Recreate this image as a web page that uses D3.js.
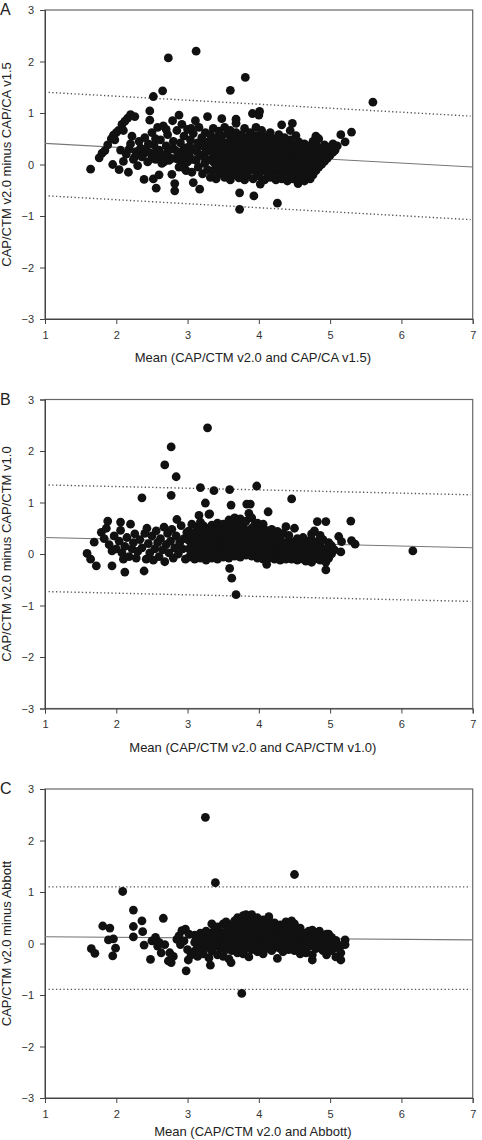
<!DOCTYPE html>
<html><head><meta charset="utf-8">
<script src="https://cdn.jsdelivr.net/npm/d3@7"></script>
<style>html,body{margin:0;padding:0;background:#fff;}svg{display:block;}</style>
</head><body>
<script>
const xTicks = [1,2,3,4,5,6,7];
const yTicks = [-3,-2,-1,0,1,2,3];
const panelLetters = ["A","B","C"];
const xTitles = ["Mean (CAP/CTM v2.0 and CAP/CA v1.5)","Mean (CAP/CTM v2.0 and CAP/CTM v1.0)","Mean (CAP/CTM v2.0 and Abbott)"];
const yTitles = ["CAP/CTM v2.0 minus CAP/CA v1.5","CAP/CTM v2.0 minus CAP/CTM v1.0","CAP/CTM v2.0 minus Abbott"];

// regression (solid) and limits of agreement (dotted) lines, [x,y] endpoints
const biasA = [[1,0.41],[7,-0.05]], upperA = [[1.05,1.40],[6.97,0.94]], lowerA = [[1.05,-0.61],[6.97,-1.07]];
const biasB = [[1,0.32],[7,0.12]], upperB = [[1.05,1.34],[6.97,1.15]], lowerB = [[1.05,-0.73],[6.97,-0.92]];
const biasC = [[1,0.13],[7,0.07]], upperC = [[1.05,1.10],[6.97,1.10]], lowerC = [[1.05,-0.89],[6.97,-0.89]];

// helper to expand columns [x, [ys]] into points
function cols(list){const o=[];list.forEach(([x,ys])=>ys.forEach(y=>o.push([x,y])));return o;}

const ptsA = [
[2.73,2.07],[3.12,2.20],[3.81,1.69],[3.60,1.44],[2.65,1.43],[2.52,1.32],[5.60,1.21],
[1.64,-0.09],[1.76,0.13],[1.80,0.22],[1.84,0.27],[1.88,0.38],[1.93,0.50],[1.98,0.48],[1.96,0.57],[2.00,0.62],[2.03,0.66],[2.08,0.78],[2.10,0.66],[2.12,0.84],[2.16,0.90],[2.20,0.97],[2.26,0.93],
[1.95,0.00],[2.04,-0.10],[2.10,0.06],[2.06,0.28],[2.14,0.20],[2.17,-0.15],[2.20,0.40],[2.24,0.10],[2.28,0.25],[2.30,-0.02],[2.22,0.55],[2.32,0.45],
[2.18,0.30],[2.26,0.15],[2.34,0.32],[2.38,0.20],[2.45,0.40],[2.50,0.12],[2.57,0.25],[2.63,0.15],[2.67,0.05],[2.71,0.22],[2.77,0.12],[2.81,0.30],[2.87,0.10],[2.91,0.05],[2.94,0.28],[2.99,0.18],[3.03,0.35],[3.07,0.10],[3.13,0.25],[3.19,0.38],[3.23,0.15],[3.27,0.40],[3.05,0.70],[2.70,0.68],[2.55,0.50],
[2.36,0.15],[2.39,-0.29],[2.40,0.52],[2.42,0.30],[2.44,0.05],[2.47,0.86],[2.47,1.04],[2.48,0.22],[2.50,0.62],[2.52,-0.28],[2.53,0.38],[2.55,0.10],[2.56,-0.46],[2.58,0.72],[2.60,-0.20],[2.60,0.28],[2.62,0.48],[2.64,0.02],[2.66,0.75],[2.68,0.18],[2.70,0.36],[2.72,0.58],[2.74,0.08],[2.76,0.30],[2.78,-0.19],[2.79,0.85],[2.80,0.45],[2.82,-0.37],[2.82,-0.51],[2.83,0.12],[2.85,0.66],[2.86,0.25],[2.88,0.96],[2.88,-0.05],[2.90,0.42],[2.92,0.78],[2.93,0.15],[2.95,0.55],[2.96,-0.08],[2.98,-0.12],[2.98,0.32],[3.00,0.68],[3.00,0.05],
[3.02,0.22],[3.04,0.48],[3.06,-0.15],[3.08,-0.35],[3.08,0.60],[3.10,0.30],[3.11,0.85],[3.12,0.08],[3.14,0.42],[3.15,-0.05],[3.16,0.72],[3.17,-0.48],[3.18,0.18],[3.20,0.52],[3.21,-0.18],[3.22,0.35],[3.24,0.02],[3.25,0.62],[3.26,0.25],[3.28,0.93],[3.28,-0.10],[3.30,0.45],
...cols([
[3.32,[-0.25,0.10,0.30,0.58]],[3.36,[-0.12,0.05,0.22,0.40,0.70]],[3.40,[-0.28,-0.02,0.15,0.35,0.52]],[3.44,[-0.18,0.08,0.26,0.45,0.65]],
[3.48,[-0.10,0.02,0.18,0.32,0.89,0.55]],[3.52,[-0.25,-0.05,0.12,0.28,0.42,0.72]],[3.56,[-0.15,0.06,0.20,0.38,0.60]],[3.60,[-0.30,-0.08,0.10,0.25,0.48,0.66]],
[3.64,[-0.20,0.00,0.16,0.34,0.55]],[3.68,[-0.12,0.08,0.22,0.40,0.62,0.80,0.88]],[3.72,[-0.26,-0.04,0.14,0.30,0.50]],[3.73,[-0.55,-0.87]],
[3.76,[-0.16,0.04,0.20,0.36,0.58]],[3.80,[-0.30,-0.08,0.12,0.28,0.45,0.70]],[3.84,[-0.20,0.02,0.18,0.34,0.52]],[3.88,[-0.10,0.06,0.24,0.42,0.62]],
[3.91,[0.99]],[3.92,[-0.28,-0.02,0.14,0.30,0.48]],[3.93,[-0.61]],[3.96,[-0.15,0.08,0.22,0.38,0.56,0.72]],[4.00,[-0.22,-0.06,0.10,0.26,0.44,0.96]],
[4.01,[1.03]],[4.02,[-0.38]],[4.04,[-0.12,0.04,0.18,0.34,0.52,0.66]],[4.08,[-0.30,-0.08,0.12,0.28,0.46]],[4.12,[-0.18,0.00,0.16,0.32,0.55]],
[4.16,[-0.25,-0.05,0.08,0.24,0.40,0.62]],[4.20,[-0.14,0.04,0.20,0.36,0.50]],[4.24,[-0.30,-0.10,0.10,0.26,0.44]],[4.26,[-0.75]],
[4.28,[-0.20,0.02,0.16,0.32,0.58]],[4.32,[-0.28,-0.06,0.12,0.28,0.46,0.77]],[4.36,[-0.16,0.04,0.20,0.38,0.52]],[4.40,[-0.32,-0.10,0.08,0.24,0.42]],
[4.44,[-0.20,0.00,0.16,0.30,0.48,0.66]],[4.47,[0.80]],[4.48,[-0.28,-0.06,0.12,0.26,0.40]],[4.52,[-0.16,0.04,0.20,0.34,0.56]],[4.55,[-0.37]],
[4.56,[-0.30,-0.08,0.10,0.28,0.44]],[4.60,[-0.22,0.00,0.16,0.32]],[4.64,[-0.32,-0.12,0.06,0.22,0.40]],[4.68,[-0.24,-0.04,0.14,0.30]],
[4.72,[-0.28,-0.10,0.08,0.24,0.36]],[4.76,[-0.20,0.00,0.16,0.30,0.45]],[4.80,[-0.12,0.06,0.22,0.55,0.40]],[4.84,[-0.05,0.10,0.28,0.50]],
[4.88,[0.00,0.16,0.32]],[4.92,[0.06,0.22,0.38]],[4.96,[0.12,0.28]],[5.00,[0.18,0.34]],[5.04,[0.24,0.40]],[5.07,[0.28]],[5.10,[0.36]],
[5.15,[0.58]],[5.21,[0.44]],[5.30,[0.63]]
])
];

const ptsB = [
[3.28,2.45],[2.77,2.08],[2.68,1.73],[2.84,1.50],[2.77,1.14],[3.18,1.29],[3.37,1.23],[3.59,1.25],[3.97,1.32],[3.31,0.78],
[1.59,0.01],[1.64,-0.10],[1.69,0.23],[1.72,-0.23],[1.79,0.42],[1.83,0.30],[1.86,0.50],[1.88,0.64],[1.90,0.18],[1.94,0.06],[1.94,-0.23],[1.97,0.35],[2.00,0.10],[2.04,0.25],[2.06,0.62],[2.06,0.46],[2.08,0.02],[2.10,-0.10],[2.12,-0.35],[2.12,0.15],[2.15,0.32],[2.18,-0.05],[2.20,0.58],[2.22,0.10],[2.24,0.22],[2.26,0.39],[2.28,-0.08],[2.30,0.05],[2.33,0.28],[2.36,1.09],[2.36,0.12],[2.39,-0.33],[2.40,0.40],[2.42,-0.10],[2.43,0.50],[2.45,0.20],[2.47,0.02],[2.50,0.35],[2.52,-0.12],[2.54,0.10],[2.56,0.45],[2.58,0.22],[2.60,-0.05],[2.62,0.30],[2.65,0.08],[2.67,0.52],[2.68,-0.15],[2.70,0.18],[2.72,0.40],[2.74,0.02],[2.76,0.25],[2.78,0.48],[2.80,-0.08],[2.82,0.12],[2.84,0.35],[2.85,0.67],[2.87,0.00],[2.89,0.22],[2.91,0.55],[2.93,0.10],[2.95,0.30],[2.97,-0.10],[2.99,0.42],
...cols([
[3.02,[-0.06,0.10,0.26,0.45]],[3.06,[0.02,0.18,0.36,0.58]],[3.10,[-0.10,0.08,0.24,0.42]],[3.14,[0.00,0.16,0.32,0.52]],[3.16,[0.75]],
[3.18,[-0.08,0.10,0.28,0.46,0.62]],[3.22,[0.04,0.20,0.38,0.55]],[3.25,[0.99]],[3.26,[-0.12,0.08,0.24,0.42]],[3.30,[0.00,0.14,0.30,0.50,0.77]],
[3.34,[-0.08,0.06,0.22,0.38,0.56]],[3.38,[0.02,0.18,0.34,0.48]],[3.42,[-0.10,0.08,0.26,0.44,0.60]],[3.46,[0.00,0.14,0.30,0.52]],
[3.50,[-0.06,0.10,0.24,0.40,0.58]],[3.54,[0.04,0.20,0.36,0.50]],[3.58,[-0.08,0.08,0.28,0.46,0.66]],[3.59,[-0.28]],[3.61,[0.95]],
[3.62,[0.00,0.16,0.34,0.54,-0.47]],[3.66,[-0.04,0.12,0.26,0.44,0.70]],[3.68,[-0.79]],[3.70,[0.02,0.20,0.38,0.58]],[3.74,[-0.06,0.10,0.30,0.50,0.68]],
[3.78,[0.04,0.18,0.36,0.56]],[3.82,[-0.02,0.14,0.28,0.46,0.64]],[3.83,[0.97]],[3.86,[0.06,0.22,0.40,0.79]],[3.88,[0.97]],[3.90,[-0.04,0.10,0.30,0.50,0.70]],
[3.94,[0.02,0.18,0.36,0.56]],[3.98,[-0.08,0.08,0.24,0.44,0.60]],[4.02,[0.00,0.16,0.32,0.52]],[4.06,[-0.10,0.06,0.22,0.40,0.58]],
[4.10,[-0.02,0.12,0.30,0.46]],[4.11,[-0.20]],[4.13,[0.82]],[4.14,[-0.08,0.08,0.24,0.42]],[4.18,[0.00,0.14,0.30,0.48]],[4.22,[-0.10,0.04,0.20,0.36]],
[4.26,[-0.04,0.10,0.26,0.44]],[4.30,[-0.12,0.02,0.16,0.32]],[4.34,[-0.06,0.08,0.22,0.40]],[4.38,[-0.10,0.02,0.18,0.53]],[4.42,[-0.04,0.10,0.26,0.36]],
[4.46,[-0.10,0.04,0.18,1.07]],[4.50,[-0.06,0.08,0.24,0.50]],[4.54,[-0.12,0.02,0.16,0.30]],[4.58,[-0.04,0.10,0.22]],[4.62,[-0.10,0.04,0.18,0.32]],
[4.66,[-0.14,0.00,0.12,0.26]],[4.70,[-0.08,0.06,0.20]],[4.74,[-0.16,-0.02,0.12,0.28,0.39]],[4.78,[-0.10,0.04,0.18,0.45]],[4.82,[-0.06,0.08,0.24,0.63]],
[4.86,[-0.12,0.02,0.16,0.36]],[4.90,[-0.04,0.10,0.28]],[4.94,[-0.31,-0.16,0.06,0.63]],[4.98,[-0.08,0.12,0.22]],[5.02,[0.00,0.16]],[5.06,[0.08]],
[5.12,[0.34]],[5.15,[0.04]],[5.16,[0.24]],[5.29,[0.64]],[5.30,[0.26]],[5.35,[0.19]],[6.16,[0.06]]
])
];

const ptsC = [
[3.25,2.45],[3.39,1.18],[2.09,1.01],
[1.65,-0.10],[1.70,-0.19],[1.81,0.34],[1.89,0.07],[1.91,0.30],[1.95,-0.24],[1.96,0.09],[1.99,-0.09],[2.24,0.65],[2.24,0.33],[2.24,0.13],[2.36,0.44],[2.37,0.23],[2.39,-0.03],[2.48,-0.31],[2.50,0.05],[2.55,0.12],[2.58,-0.05],[2.60,0.02],[2.63,-0.18],[2.66,0.49],[2.68,-0.02],[2.73,-0.34],[2.75,-0.18],[2.77,-0.37],[2.80,-0.25],[2.85,0.08],[2.88,0.15],[2.90,-0.02],[2.92,0.25],[2.95,0.05],[2.97,0.28],[2.98,-0.53],[3.00,-0.12],[3.01,-0.32],[3.02,0.18],[3.05,-0.22],
...cols([
[3.10,[-0.15,0.02,0.16]],[3.14,[-0.25,-0.05,0.10]],[3.18,[-0.10,0.06,0.20]],[3.22,[-0.20,0.00,0.14]],[3.26,[-0.08,0.08,0.24]],[3.30,[-0.28,-0.02,0.12]],
[3.32,[-0.42]],[3.34,[-0.15,0.04,0.20,0.38]],[3.38,[-0.05,0.12,0.28]],[3.42,[-0.22,0.00,0.16,0.32]],[3.46,[-0.10,0.06,0.22]],[3.50,[-0.25,-0.02,0.14,0.38]],
[3.54,[-0.12,0.08,0.24,0.42]],[3.58,[-0.30,-0.04,0.12,0.30]],[3.61,[-0.37]],[3.62,[-0.14,0.04,0.20,0.36]],[3.66,[-0.06,0.10,0.26,0.44]],
[3.70,[-0.18,0.02,0.18,0.34,0.50]],[3.74,[-0.08,0.08,0.24,0.42]],[3.76,[-0.97]],[3.78,[-0.20,0.00,0.14,0.30,0.54]],[3.82,[-0.10,0.06,0.22,0.40,0.56]],
[3.86,[-0.26,-0.02,0.12,0.28,0.46]],[3.90,[-0.12,0.04,0.20,0.36,0.56]],[3.94,[-0.06,0.10,0.26,0.44]],[3.98,[-0.16,0.00,0.16,0.32,0.50]],
[4.02,[-0.08,0.08,0.22,0.38]],[4.06,[-0.20,-0.02,0.14,0.30,0.46]],[4.10,[-0.10,0.06,0.20,0.36]],[4.14,[-0.04,0.12,0.28,0.44,0.52]],
[4.18,[-0.14,0.02,0.18,0.34]],[4.22,[-0.08,0.08,0.24,0.40]],[4.26,[-0.29,-0.02,0.14,0.30]],[4.30,[-0.10,0.04,0.20,0.36]],[4.34,[-0.16,0.00,0.16,0.28]],
[4.38,[-0.06,0.10,0.24,0.42]],[4.42,[-0.12,0.02,0.18,0.32]],[4.46,[-0.04,0.10,0.26,0.44]],[4.50,[-0.14,0.06,0.20,0.38,1.34]],[4.54,[-0.08,0.12,0.28]],
[4.58,[-0.20,0.00,0.14,0.30]],[4.62,[-0.10,0.06,0.20]],[4.66,[-0.18,0.02,0.16]],[4.70,[-0.06,0.10,0.24]],[4.75,[-0.32,-0.22,0.00,0.14,0.26]],
[4.80,[-0.10,0.06,0.20]],[4.85,[-0.04,0.12,0.24]],[4.90,[-0.14,0.02,0.10]],[4.95,[-0.22,-0.06,0.08,0.18]],[4.98,[0.18]],[5.02,[-0.14,0.00,0.12]],
[5.08,[-0.26,-0.08,0.06]],[5.15,[-0.32,-0.18,-0.04]],[5.21,[0.07,-0.02]]
])
];

const panels = [
  {pts: ptsA, bias: biasA, upper: upperA, lower: lowerA},
  {pts: ptsB, bias: biasB, upper: upperB, lower: lowerB},
  {pts: ptsC, bias: biasC, upper: upperC, lower: lowerC}
];

const W = 482, H = 1140;
const left = 45, plotW = 427.7, plotH = 309;
const tops = [10, 399.5, 789];
const letterBase = [15, 405, 794];
const xTitleOffset = [43, 43, 38];

const svg = d3.select("body").append("svg").attr("width", W).attr("height", H)
  .style("font-family", "'Liberation Sans', Arial, sans-serif");

panels.forEach((p, i) => {
  const top = tops[i];
  const x = d3.scaleLinear().domain([1,7]).range([0, plotW]);
  const y = d3.scaleLinear().domain([-3,3]).range([plotH, 0]);
  const g = svg.append("g").attr("transform", `translate(${left},${top})`);

  g.append("rect").attr("x",0).attr("y",0).attr("width",plotW).attr("height",plotH)
    .attr("fill","none").attr("stroke","#666").attr("stroke-width",1.2);

  const ya = g.append("g").call(d3.axisLeft(y).tickValues(yTicks).tickSize(5).tickPadding(6).tickFormat(d3.format("d")));
  ya.select(".domain").attr("stroke","#444");
  ya.selectAll(".tick line").attr("stroke","#444");
  ya.selectAll("text").attr("font-size", 11).attr("fill", "#333").attr("font-family","'Liberation Sans', Arial, sans-serif");

  const xa = g.append("g").attr("transform", `translate(0,${plotH})`)
    .call(d3.axisBottom(x).tickValues(xTicks).tickSize(5).tickPadding(7).tickFormat(d3.format("d")));
  xa.select(".domain").attr("stroke","#444");
  xa.selectAll(".tick line").attr("stroke","#444");
  xa.selectAll("text").attr("font-size", 11).attr("fill", "#333").attr("font-family","'Liberation Sans', Arial, sans-serif");

  const line = d3.line().x(d => x(d[0])).y(d => y(d[1]));
  g.append("path").attr("d", line(p.bias)).attr("fill","none").attr("stroke","#777").attr("stroke-width",1.1);
  [p.upper, p.lower].forEach(l => {
    g.append("path").attr("d", line(l)).attr("fill","none").attr("stroke","#555")
      .attr("stroke-width",1.4).attr("stroke-dasharray","1.3,2.4");
  });

  g.append("g").selectAll("circle").data(p.pts).join("circle")
    .attr("cx", d => x(d[0])).attr("cy", d => y(d[1])).attr("r", 4.4).attr("fill", "#111");

  svg.append("text").attr("x", left + plotW/2 - 6).attr("y", top + plotH + xTitleOffset[i])
    .attr("text-anchor","middle").attr("font-size",13).attr("fill","#222").text(xTitles[i]);
  svg.append("text").attr("transform", `translate(11,${top + plotH/2}) rotate(-90)`)
    .attr("text-anchor","middle").attr("font-size",13).attr("fill","#222").text(yTitles[i]);
  svg.append("text").attr("x", 0).attr("y", letterBase[i])
    .attr("font-size", 16).attr("fill","#222").text(panelLetters[i]);
});
</script>
</body></html>
